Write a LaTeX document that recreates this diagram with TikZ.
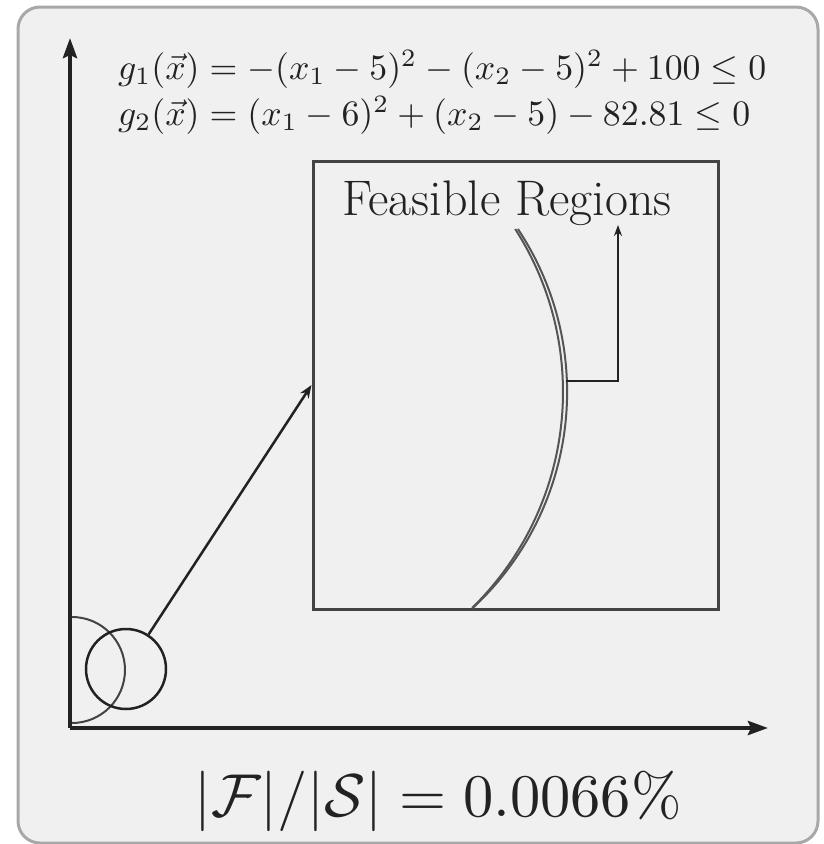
\documentclass[tikz,border=0pt]{standalone}
\usepackage{fontspec}
\usepackage{graphicx}
\usetikzlibrary{arrows.meta}
\definecolor{bgc}{HTML}{F0F0F0}
\definecolor{bordc}{HTML}{A8A8A8}
\definecolor{ink}{HTML}{222222}
\definecolor{arcc}{HTML}{555555}
\tikzset{
  axisline/.style={line width=4pt, draw=ink, -{Stealth[length=20pt,width=14pt,inset=3pt]}},
  zoombox/.style={draw=ink!85, line width=3pt, minimum width=405pt, minimum height=448pt, inner sep=0pt},
  smallcirc/.style={circle, draw=ink, line width=2.5pt, minimum size=80pt, inner sep=0pt},
  bigarrow/.style={line width=2.5pt, draw=ink, -{Stealth[length=13pt,width=10pt]}},
  leader/.style={line width=1.5pt, draw=ink, -{Stealth[length=11pt,width=8pt]}},
  feasarc/.style={line width=2pt, draw=arcc},
  eqtext/.style={anchor=base west, inner sep=0pt, text=ink},
}
\begin{document}
\begin{tikzpicture}[x=1pt,y=-1pt]
\useasboundingbox (0,0) rectangle (823,844);
\fill[white] (0,0) rectangle (823,844);
\draw[rounded corners=22pt, fill=bgc, draw=bordc, line width=3pt] (18,7) rectangle (818,843);

% axes
\coordinate (O) at (70,728);
\coordinate (ytip) at (70,38);
\coordinate (xtip) at (768,728);
\draw[axisline] (O) -- (ytip);
\draw[axisline] (O) -- (xtip);

% equations
\node[eqtext] (g1) at (118,79) {\scalebox{3.58}{$g_1(\vec{x}) = -(x_1-5)^2-(x_2-5)^2+100\leq 0$}};
\node[eqtext] (g2) at (118,125) {\scalebox{3.58}{$g_2(\vec{x}) = (x_1-6)^2+(x_2-5)-82.81\leq 0$}};

% zoom box
\node[zoombox] (zoom) at (515.5,385) {};
\node[anchor=base west, inner sep=0pt, text=ink] (feas) at (342,215) {\rmfamily\fontsize{50}{54}\selectfont Feasible Regions};

% feasible boundary arcs
\draw[feasarc] (517.9,229) arc[start angle=-33.6, end angle=47.2, radius=294.5];
\draw[feasarc] (515.2,229) arc[start angle=-32.67, end angle=45.66, radius=302];

% leader arrow
\coordinate (lead) at (566,381);
\coordinate (leadtip) at (618,225);
\draw[leader] (lead) -| (leadtip);

% small region near origin
\draw[line width=2pt, draw=ink!85] (72,617) arc[start angle=-90, end angle=90, radius=53];
\node[smallcirc] (zc) at (126,669) {};
\draw[bigarrow] (zc) -- (zoom.west);

% ratio
\node[anchor=base, inner sep=0pt, text=ink] (ratio) at (438,816) {\scalebox{6.05}{$|\mathcal{F}|/|\mathcal{S}| = 0.0066\%$}};
\end{tikzpicture}
\end{document}
